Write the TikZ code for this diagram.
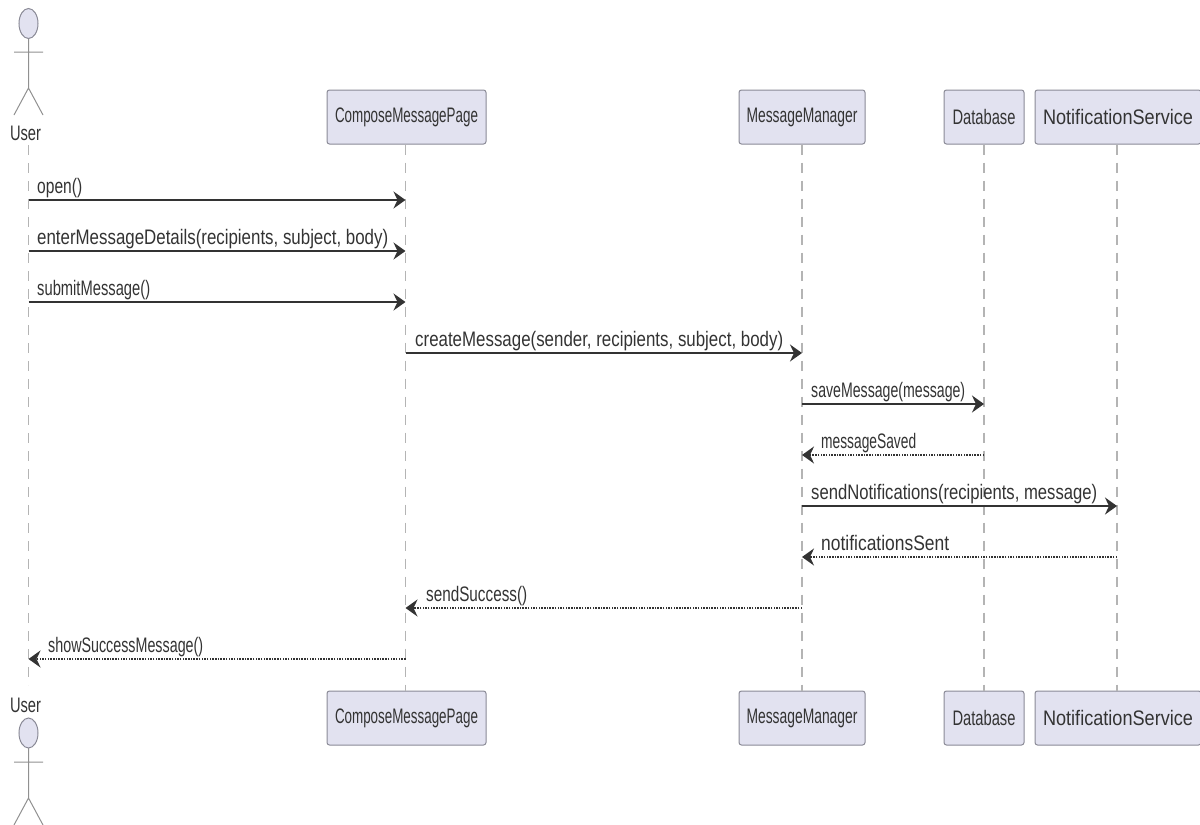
\documentclass[tikz,border=0pt]{standalone}
\usepackage{graphicx}
\usepackage{fontspec}
\setmainfont{Liberation Sans}
\usetikzlibrary{arrows.meta, shapes.geometric}
\definecolor{boxfill}{HTML}{E2E2F0}
\definecolor{boxline}{HTML}{8A8A96}
\definecolor{inkline}{HTML}{333333}
\definecolor{lifeline}{HTML}{B4B4B4}
\newcommand{\fitlabel}[2]{\resizebox{#1pt}{\height}{#2}}

\begin{document}
\begin{tikzpicture}[x=1pt, y=-1pt,
  main/.style = {draw=boxline, fill=boxfill, line width=1pt, rounded corners=2.5pt, minimum height=54pt, inner sep=0pt, text=inkline, font=\fontsize{21}{23}\selectfont},
  actorhead/.style = {draw=boxline, fill=boxfill, line width=1pt, ellipse, minimum width=19pt, minimum height=30pt, inner sep=0pt},
  actorname/.style = {inner sep=0pt, text=inkline, font=\fontsize{21}{23}\selectfont},
  limb/.style = {draw=lifeline!80!black, line width=1pt},
  msgtext/.style = {anchor=base west, inner sep=0pt, text=inkline, font=\fontsize{21}{23}\selectfont},
  life/.style = {draw=lifeline, line width=1.2pt, dash pattern=on 10pt off 8pt},
  call/.style = {draw=inkline, line width=2pt, -{Stealth[length=12pt, width=17pt, inset=4pt]}},
  reply/.style = {call, dash pattern=on 1.5pt off 1.2pt}]
\useasboundingbox (0,0) rectangle (1200,825);

\foreach \name/\xpos in {user/28.5, page/405.5, mgr/802, db/984, ns/1117}
  \foreach \row/\ypos in {1/200, 2/251, 3/302, 4/353, 5/404, 6/455, 7/506, 8/557, 9/608, 10/659}
    \coordinate (\name\row) at (\xpos,\ypos);

\coordinate (usertop) at (28.5,145);
\coordinate (userbot) at (28.5,685);

% top row
\node[main, minimum width=159pt] (pagetop) at (406.5,117) {\fitlabel{143}{ComposeMessagePage}};
\node[main, minimum width=126pt] (mgrtop) at (802,117) {\fitlabel{111}{MessageManager}};
\node[main, minimum width=80pt] (dbtop) at (984,117) {\fitlabel{63}{Database}};
\node[main, minimum width=166pt] (nstop) at (1118,117) {\fitlabel{150}{NotificationService}};

% bottom row
\node[main, minimum width=159pt] (pagebot) at (406.5,718) {\fitlabel{143}{ComposeMessagePage}};
\node[main, minimum width=126pt] (mgrbot) at (802,718) {\fitlabel{111}{MessageManager}};
\node[main, minimum width=80pt] (dbbot) at (984,718) {\fitlabel{63}{Database}};
\node[main, minimum width=166pt] (nsbot) at (1118,718) {\fitlabel{150}{NotificationService}};

\draw[life] (usertop) -- (userbot);
\draw[life] (page1 |- pagetop.south) -- (page1 |- pagebot.north);
\draw[life] (mgrtop.south) -- (mgrbot.north);
\draw[life] (dbtop.south) -- (dbbot.north);
\draw[life] (ns1 |- nstop.south) -- (ns1 |- nsbot.north);

% top actor
\draw[limb] (28.5,39) -- (28.5,88) -- (14,115) (28.5,88) -- (43,115) (14,52) -- (43,52);
\node[actorhead] (head) at (28.5,23.5) {};
\node[actorname] (username) at (25.5,133) {\fitlabel{31}{User}};

% bottom actor
\draw[limb] (28.5,748) -- (28.5,798) -- (14,825) (28.5,798) -- (43,825) (14,762) -- (43,762);
\node[actorhead] (headbot) at (28.5,733) {};
\node[actorname] (usernamebot) at (25.5,705) {\fitlabel{31}{User}};

% messages
\draw[call] (user1) -- (page1);
\draw[call] (user2) -- (page2);
\draw[call] (user3) -- (page3);
\draw[call] (page4) -- (mgr4);
\draw[call] (mgr5) -- (db5);
\draw[reply] (db6) -- (mgr6);
\draw[call] (mgr7) -- (ns7);
\draw[reply] (ns8) -- (mgr8);
\draw[reply] (mgr9) -- (page9);
\draw[reply] (page10) -- (user10);

\node[msgtext] (open) at (37,193) {\fitlabel{45}{open()}};
\node[msgtext] (enter) at (37,244) {\fitlabel{351}{enterMessageDetails(recipients, subject, body)}};
\node[msgtext] (submit) at (37,295) {\fitlabel{113}{submitMessage()}};
\node[msgtext] (create) at (415,346) {\fitlabel{368}{createMessage(sender, recipients, subject, body)}};
\node[msgtext] (save) at (811,397) {\fitlabel{154}{saveMessage(message)}};
\node[msgtext] (saved) at (821,448) {\fitlabel{95}{messageSaved}};
\node[msgtext] (notify) at (811,499) {\fitlabel{286}{sendNotifications(recipients, message)}};
\node[msgtext] (sent) at (821,550) {\fitlabel{128}{notificationsSent}};
\node[msgtext] (success) at (426,601) {\fitlabel{101}{sendSuccess()}};
\node[msgtext] (show) at (48,652) {\fitlabel{155}{showSuccessMessage()}};
\end{tikzpicture}
\end{document}
